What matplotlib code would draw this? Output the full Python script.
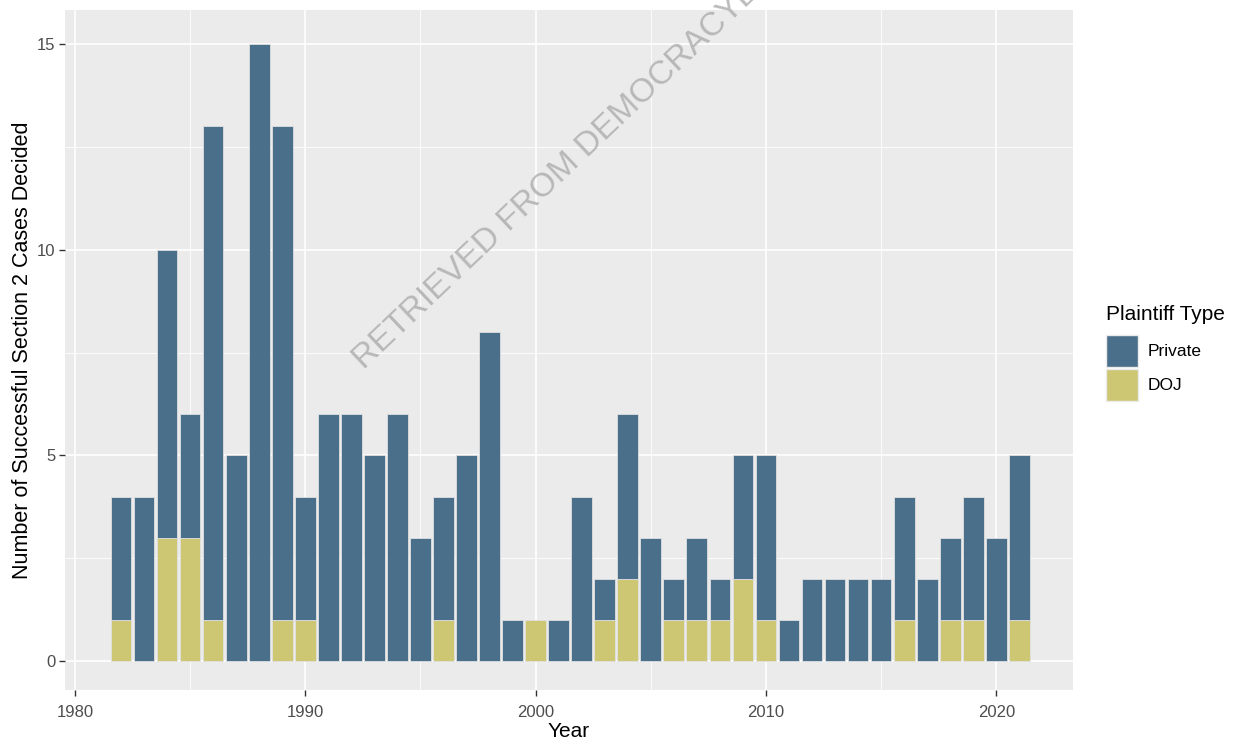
import matplotlib
matplotlib.use("Agg")
import matplotlib.pyplot as plt
import numpy as np
from matplotlib.patches import Rectangle

plt.rcParams["font.family"] = ["Liberation Sans", "DejaVu Sans"]

years = list(range(1982, 2022))
totals = [4, 4, 10, 6, 13, 5, 15, 13, 4, 6,
          6, 5, 6, 3, 4, 5, 8, 1, 1, 1,
          4, 2, 6, 3, 2, 3, 2, 5, 5, 1,
          2, 2, 2, 2, 4, 2, 3, 4, 3, 5]
doj = [1, 0, 3, 3, 1, 0, 0, 1, 1, 0,
       0, 0, 0, 0, 1, 0, 0, 0, 1, 0,
       0, 1, 2, 0, 1, 1, 1, 2, 1, 0,
       0, 0, 0, 0, 1, 0, 1, 1, 0, 1]
private = [t - d for t, d in zip(totals, doj)]

series_names = ["Private", "DOJ"]
colors = {"Private": "#4A6F8A", "DOJ": "#CDC673"}

W, H = 1236, 745
fig = plt.figure(figsize=(W / 100, H / 100), dpi=100)
ax = fig.add_axes([65 / W, 1 - 690 / H, (1073 - 65) / W, (690 - 10) / H])
ax.set_facecolor("#EBEBEB")

x = np.array(years)
ax.bar(x, doj, width=0.9, color=colors["DOJ"], edgecolor="#E0E0E0", linewidth=0.6, zorder=3)
ax.bar(x, private, bottom=doj, width=0.9, color=colors["Private"], edgecolor="#E0E0E0", linewidth=0.6, zorder=3)

ax.set_xlim(1979.57, 2023.33)
ax.set_ylim(-0.705, 15.83)
ax.set_xticks([1980, 1990, 2000, 2010, 2020])
ax.set_yticks([0, 5, 10, 15])
ax.set_xticks([1985, 1995, 2005, 2015], minor=True)
ax.set_yticks([2.5, 7.5, 12.5], minor=True)
ax.grid(which="major", color="white", linewidth=1.2, zorder=0)
ax.grid(which="minor", color="white", linewidth=0.6, zorder=0)
ax.set_axisbelow(True)
for s in ax.spines.values():
    s.set_visible(False)
ax.tick_params(which="major", length=4.5, width=1.0, color="#333333", labelcolor="#4D4D4D", labelsize=12, pad=2.5)
ax.tick_params(axis="x", which="major", pad=6)
ax.tick_params(which="minor", length=0)

ax.set_xlabel("Year", fontsize=15, labelpad=2)
ax.set_ylabel("Number of Successful Section 2 Cases Decided", fontsize=15.5, labelpad=3)

# watermark
ax.text(364 / W, 1 - 370 / H, "RETRIEVED FROM DEMOCRACYDOCKET.COM", transform=fig.transFigure,
        rotation=43.5, rotation_mode="anchor", ha="left", va="baseline",
        fontsize=24, color="#ABABAB", alpha=0.8, zorder=5, clip_on=False)

# legend
fig.text(1106 / W, 1 - 315 / H, "Plaintiff Type", fontsize=15, ha="left", va="center")
key_tops = [335, 369]
for name, top in zip(series_names, key_tops):
    fig.patches.append(Rectangle((1106 / W, 1 - (top + 32) / H), 32 / W, 32 / H,
                                 transform=fig.transFigure, facecolor=colors[name],
                                 edgecolor="#EBEBEB", linewidth=1))
    fig.text(1148 / W, 1 - (top + 17) / H, name, fontsize=12.5, ha="left", va="center")

fig.savefig("out.png", dpi=100)
